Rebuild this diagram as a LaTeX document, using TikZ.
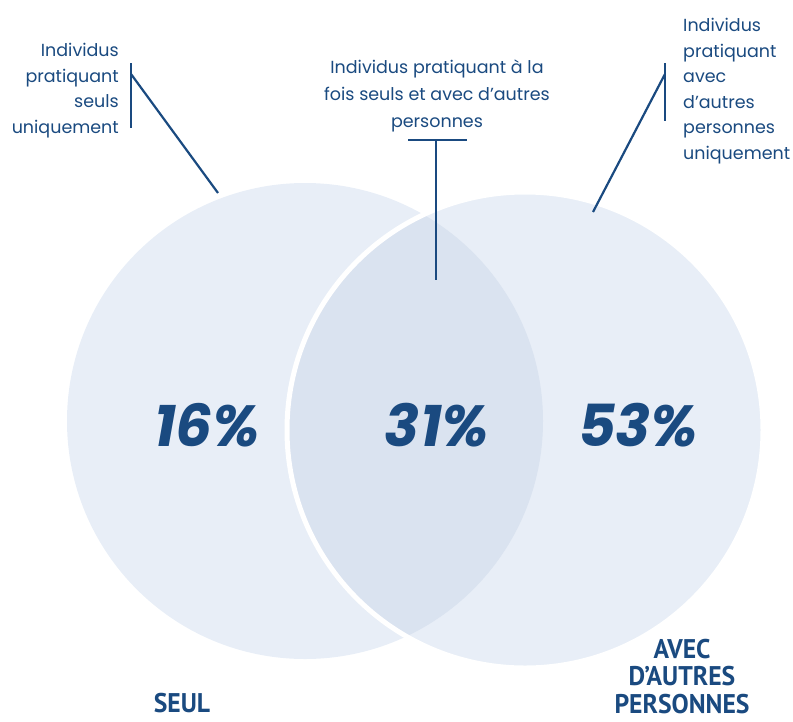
\documentclass[tikz,border=0pt]{standalone}
\usepackage{fontspec}
\setmainfont{Poppins}
\newfontfamily\capsfont{PT Sans}[FakeStretch=0.95]
\usetikzlibrary{positioning}

\definecolor{vennblue}{HTML}{1A4A80}
\definecolor{vennlight}{HTML}{E8EEF7}
\definecolor{venndark}{HTML}{DAE3F0}

\tikzset{
    lbl/.style={text=vennblue, font=\fontsize{17.5}{25.5}\selectfont, inner sep=0pt},
    pct/.style={text=vennblue, font=\fontsize{58}{60}\selectfont\bfseries\itshape, inner sep=0pt},
    setname/.style={text=vennblue, font=\capsfont\bfseries\fontsize{27}{27.5}\selectfont, align=center, inner sep=0pt},
    leader/.style={draw=vennblue, line width=2.2pt},
}

\begin{document}
\begin{tikzpicture}[x=1pt, y=-1pt]
    \useasboundingbox (0,0) rectangle (793,721);

    % Circles
    \coordinate (cSeul) at (305,421);
    \coordinate (cAvec) at (525,430);
    \fill[vennlight] (cSeul) circle (238pt);
    \fill[vennlight] (cAvec) circle (238pt);
    \begin{scope}
        \clip (cSeul) circle (238pt);
        \fill[venndark] (cAvec) circle (238pt);
    \end{scope}
    \draw[white, line width=5pt] (cAvec) circle (238pt);

    % Percentages
    \node[pct] (p16) at (207,425) {16\%};
    \node[pct] (p31) at (437,425) {31\%};
    \node[pct] (p53) at (638,425) {53\%};

    % Labels
    \node[lbl, anchor=north east, align=right] (lblSeul) at (119,43)
        {Individus\\pratiquant\\seuls\\uniquement};
    \node[lbl, anchor=north, align=center, font=\fontsize{17.5}{27}\selectfont] (lblBoth) at (437,60)
        {Individus pratiquant à la\\fois seuls et avec d’autres\\personnes};
    \node[lbl, anchor=north west, align=left] (lblAvec) at (683,18)
        {Individus\\pratiquant\\avec\\d’autres\\personnes\\uniquement};

    % Leader lines
    \coordinate (seulTop) at (131,63);
    \coordinate (seulBot) at (131,128);
    \coordinate (seulKnee) at (131,74);
    \coordinate (seulTip) at (218,193);
    \draw[leader] (seulTop) -- (seulBot);
    \draw[leader] (seulKnee) -- (seulTip);

    \coordinate (bothLeft) at (408,140);
    \coordinate (bothRight) at (467,140);
    \coordinate (bothKnee) at (436,140);
    \coordinate (bothTip) at (436,280);
    \draw[leader] (bothLeft) -- (bothRight);
    \draw[leader] (bothKnee) -- (bothTip);

    \coordinate (avecTop) at (665,63);
    \coordinate (avecBot) at (665,121);
    \coordinate (avecKnee) at (665,74);
    \coordinate (avecTip) at (593,212);
    \draw[leader] (avecTop) -- (avecBot);
    \draw[leader] (avecKnee) -- (avecTip);

    % Set names
    \node[setname, anchor=north] (nameSeul) at (182,693) {SEUL};
    \node[setname, anchor=north] (nameAvec) at (682,639) {AVEC\\D’AUTRES\\PERSONNES};
\end{tikzpicture}
\end{document}
